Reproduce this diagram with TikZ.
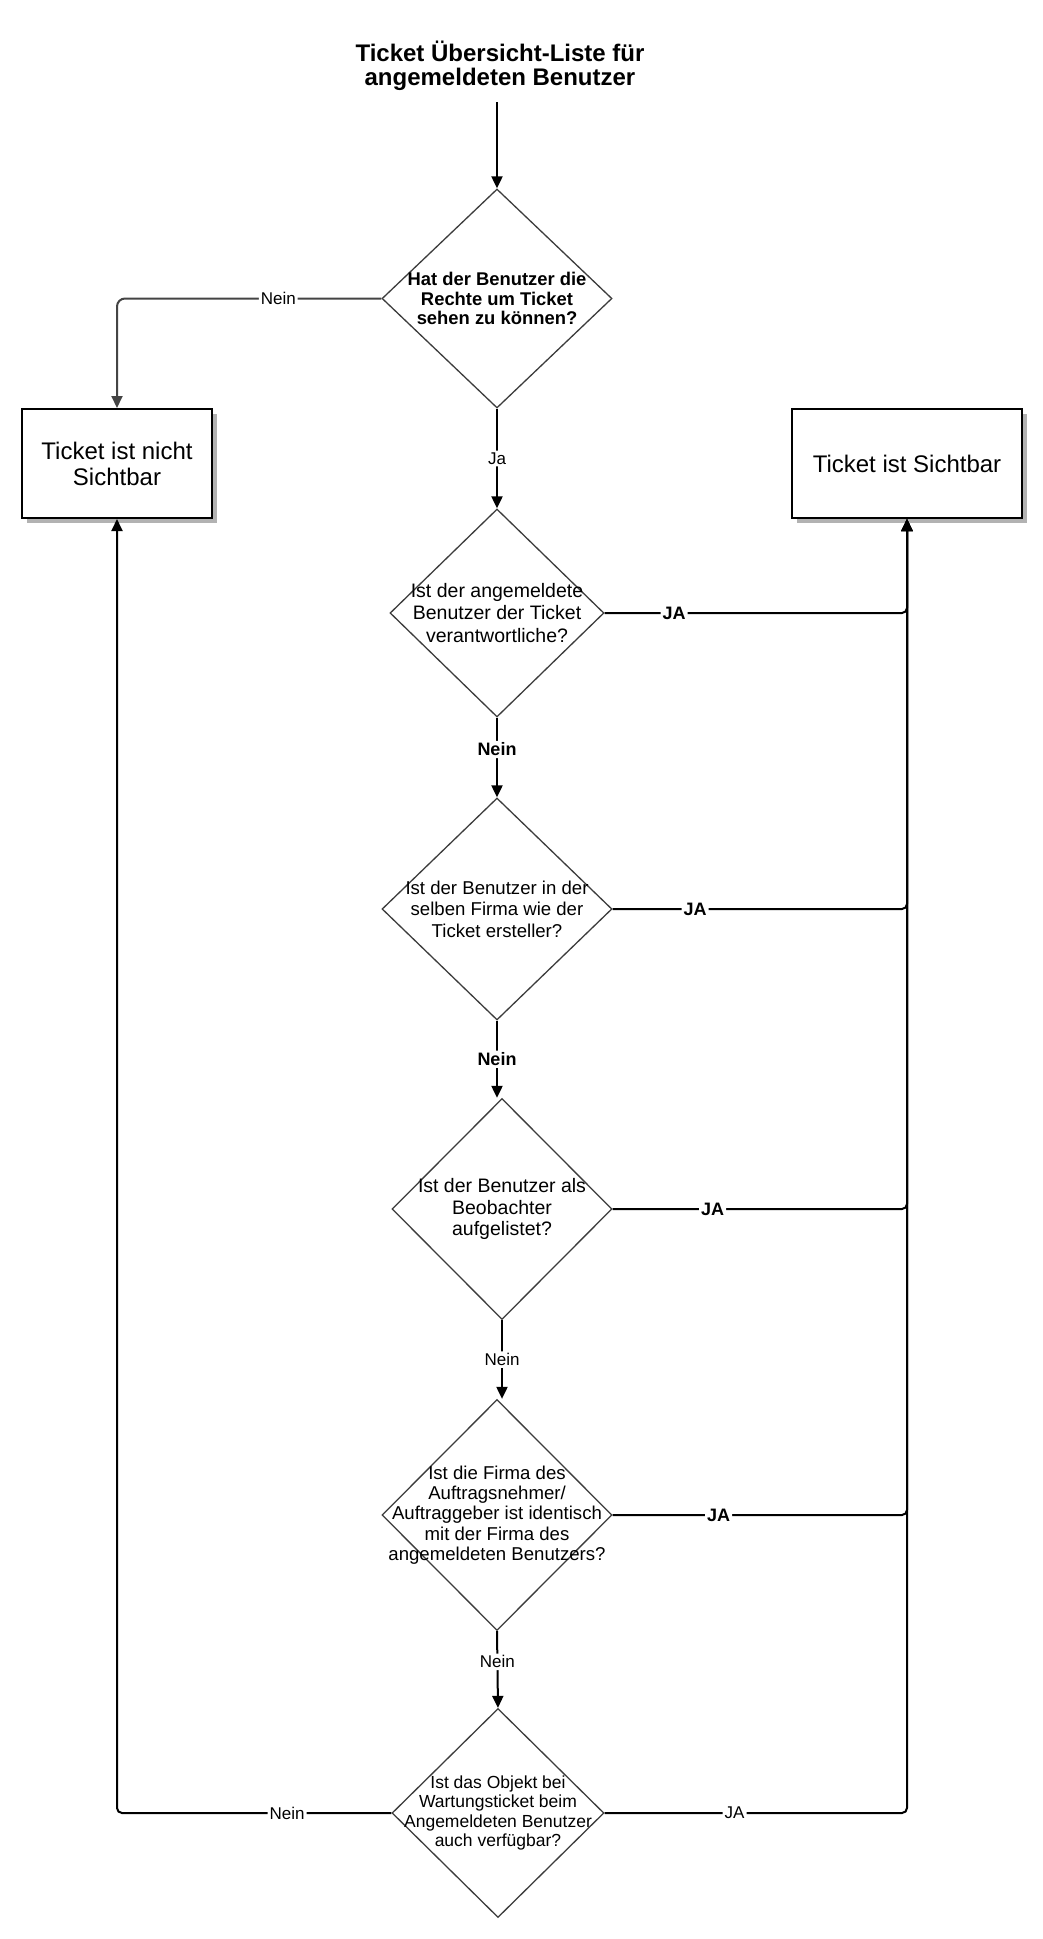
\documentclass[tikz,border=0pt]{standalone}
\usepackage{fontspec}
\setmainfont{Liberation Sans}
\usetikzlibrary{shapes.geometric,arrows.meta,shadows}
\definecolor{dline}{HTML}{3C3C3C}
\definecolor{gline}{HTML}{444444}
\begin{document}
\begin{tikzpicture}[x=1pt,y=-1pt,
  dia/.style={diamond, draw=dline, line width=1.3pt, fill=white, inner sep=0pt},
  dtxt/.style={align=center, inner sep=0pt},
  box/.style={draw=black, line width=2pt, fill=white, align=center,
    font=\fontsize{24}{26}\selectfont,
    drop shadow={shadow xshift=4.5pt, shadow yshift=-4.5pt, fill=black!30, opacity=1}},
  conn/.style={line width=2pt, draw=black, rounded corners=5pt},
  arr/.style={conn, -{Triangle[length=12pt,width=11pt]}},
  lbl/.style={fill=white, inner sep=2pt, font=\fontsize{17}{19}\selectfont},
  lblb/.style={fill=white, inner sep=2pt, font=\fontsize{18}{20}\selectfont\bfseries},
  ttl/.style={align=center, font=\fontsize{24}{24.5}\selectfont\bfseries, inner sep=0pt}
]
\useasboundingbox (0,0) rectangle (1042,1939);
\fill[white] (0,0) rectangle (1042,1939);

% title
\node[ttl] (title) at (500,66) {Ticket Übersicht-Liste für\\angemeldeten Benutzer};
\coordinate (t0) at (497,102);

% diamonds
\node[dia, minimum width=230pt, minimum height=219pt] (d1) at (497,298.5) {};
\node[dia, minimum width=214pt, minimum height=208pt] (d2) at (497,613) {};
\node[dia, minimum width=230pt, minimum height=222pt] (d3) at (497,909) {};
\node[dia, minimum width=220pt, minimum height=221pt] (d4) at (502,1209) {};
\node[dia, minimum width=230pt, minimum height=231pt] (d5) at (497,1515) {};
\node[dia, minimum width=212pt, minimum height=209pt] (d6) at (498,1813) {};

\node[dtxt, font=\fontsize{18.4}{19.5}\selectfont\bfseries] (d1t) at (d1) {Hat der Benutzer die\\Rechte um Ticket\\sehen zu können?};
\node[dtxt, font=\fontsize{19.5}{22.5}\selectfont] (d2t) at (d2) {Ist der angemeldete\\Benutzer der Ticket\\verantwortliche?};
\node[dtxt, font=\fontsize{18.6}{21.5}\selectfont] (d3t) at (d3) {Ist der Benutzer in der\\selben Firma wie der\\Ticket ersteller?};
\node[dtxt, font=\fontsize{19.5}{21.5}\selectfont] (d4t) at (d4) {Ist der Benutzer als\\Beobachter\\aufgelistet?};
\node[dtxt, font=\fontsize{18.6}{20.2}\selectfont] (d5t) at (d5) {Ist die Firma des\\Auftragsnehmer/\\Auftraggeber ist identisch\\mit der Firma des\\angemeldeten Benutzers?};
\node[dtxt, font=\fontsize{17.5}{19.5}\selectfont] (d6t) at (d6) {Ist das Objekt bei\\Wartungsticket beim\\Angemeldeten Benutzer\\auch verfügbar?};

% result boxes
\node[box, minimum width=190pt, minimum height=109pt] (nsb) at (117,463.5) {Ticket ist nicht\\Sichtbar};
\node[box, minimum width=230pt, minimum height=109pt] (sb) at (907,463.5) {Ticket ist Sichtbar};

% connectors
\draw[arr] (t0) -- (d1.north);
\draw[arr, draw=gline, rounded corners=8pt] (d1.west) -- node[lbl, pos=0.39]{Nein} (d1.west -| nsb.north) -- (nsb.north);
\draw[arr] (d1.south) -- node[lbl]{Ja} (d2.north);
\draw[arr] (d2.east) -- node[lblb, pos=0.23]{JA} (d2.east -| sb.south) -- (sb.south);
\draw[arr] (d2.south) -- node[lblb, pos=0.4]{Nein} (d3.north);
\draw[arr] (d3.east) -- node[lblb, pos=0.28]{JA} (d3.east -| sb.south) -- (sb.south);
\draw[arr] (d3.south) -- node[lblb]{Nein} (d3.south |- d4.north);
\draw[arr] (d4.east) -- node[lblb, pos=0.34]{JA} (d4.east -| sb.south) -- (sb.south);
\draw[arr] (d4.south) -- node[lbl]{Nein} (d4.south |- d5.north);
\draw[arr] (d5.east) -- node[lblb, pos=0.36]{JA} (d5.east -| sb.south) -- (sb.south);
\draw[arr] (d5.south) -- node[lbl, pos=0.4]{Nein} (d6.north);
\draw[arr] (d6.west) -- node[lbl, pos=0.38]{Nein} (d6.west -| nsb.south) -- (nsb.south);
\draw[arr] (d6.east) -- node[lbl, pos=0.43]{JA} (d6.east -| sb.south) -- (sb.south);
\end{tikzpicture}
\end{document}
